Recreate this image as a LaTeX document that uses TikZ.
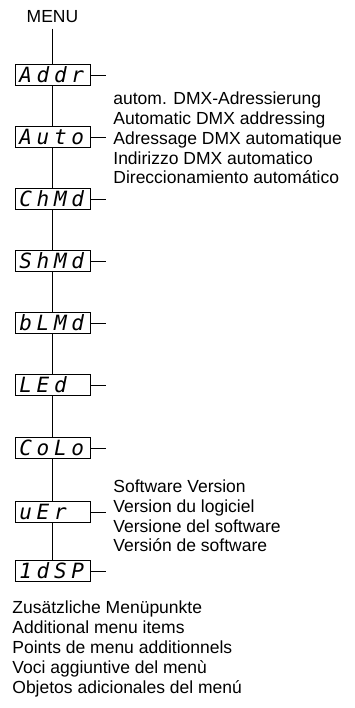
\documentclass[tikz,border=0pt]{standalone}
\usepackage{fontspec}
\setmainfont{Liberation Sans}
\newfontfamily\segfont{DejaVu Sans Mono}[LetterSpace=22]

\begin{document}
\begin{tikzpicture}[
  x=1pt, y=-1pt, line width=0.8pt,
  disp/.style={draw,rectangle,minimum width=75pt,minimum height=21pt,inner xsep=4pt,inner ysep=0pt,text width=66pt,align=left,font=\segfont\itshape\fontsize{21}{21}\selectfont},
  txt/.style={anchor=west,align=left,inner sep=0pt,font=\fontsize{17.5}{19.8}\selectfont},
  menutxt/.style={inner sep=0pt,font=\fontsize{17.5}{19.8}\selectfont}
]
  \useasboundingbox (0,0) rectangle (355,708);
  \node[menutxt] (menu) at (52.5,17) {MENU};
  \node[disp] (addr) at (52.5,75) {Addr};
  \node[disp] (auto) at (52.5,137) {Auto};
  \node[disp] (chmd) at (52.5,199) {ChMd};
  \node[disp] (shmd) at (52.5,261) {ShMd};
  \node[disp] (blmd) at (52.5,323) {bLMd};
  \node[disp] (led) at (52.5,385) {LEd};
  \node[disp] (colo) at (52.5,448) {CoLo};
  \node[disp] (ver) at (52.5,512) {uEr};
  \node[disp] (idsp) at (52.5,571) {1dSP};
  \node[txt] (autotxt) at (113,138) {autom. DMX-Adressierung\\Automatic DMX addressing\\Adressage DMX automatique\\Indirizzo DMX automatico\\Direccionamiento automático};
  \node[txt] (vertxt) at (113,516) {Software Version\\Version du logiciel\\Versione del software\\Versión de software};
  \node[txt] (moretxt) at (12,649) {Zusätzliche Menüpunkte\\Additional menu items\\Points de menu additionnels\\Voci aggiuntive del menù\\Objetos adicionales del menú};
  \draw (menu.south) ++(0,5) -- (addr);
  \draw (addr) -- (auto);
  \draw (auto) -- (chmd);
  \draw (chmd) -- (shmd);
  \draw (shmd) -- (blmd);
  \draw (blmd) -- (led);
  \draw (led) -- (colo);
  \draw (colo) -- (ver);
  \draw (ver) -- (idsp);
  \foreach \n in {addr,auto,chmd,shmd,blmd,led,colo,ver,idsp}
    \draw (\n.east) -- ++(16,0);
\end{tikzpicture}
\end{document}
